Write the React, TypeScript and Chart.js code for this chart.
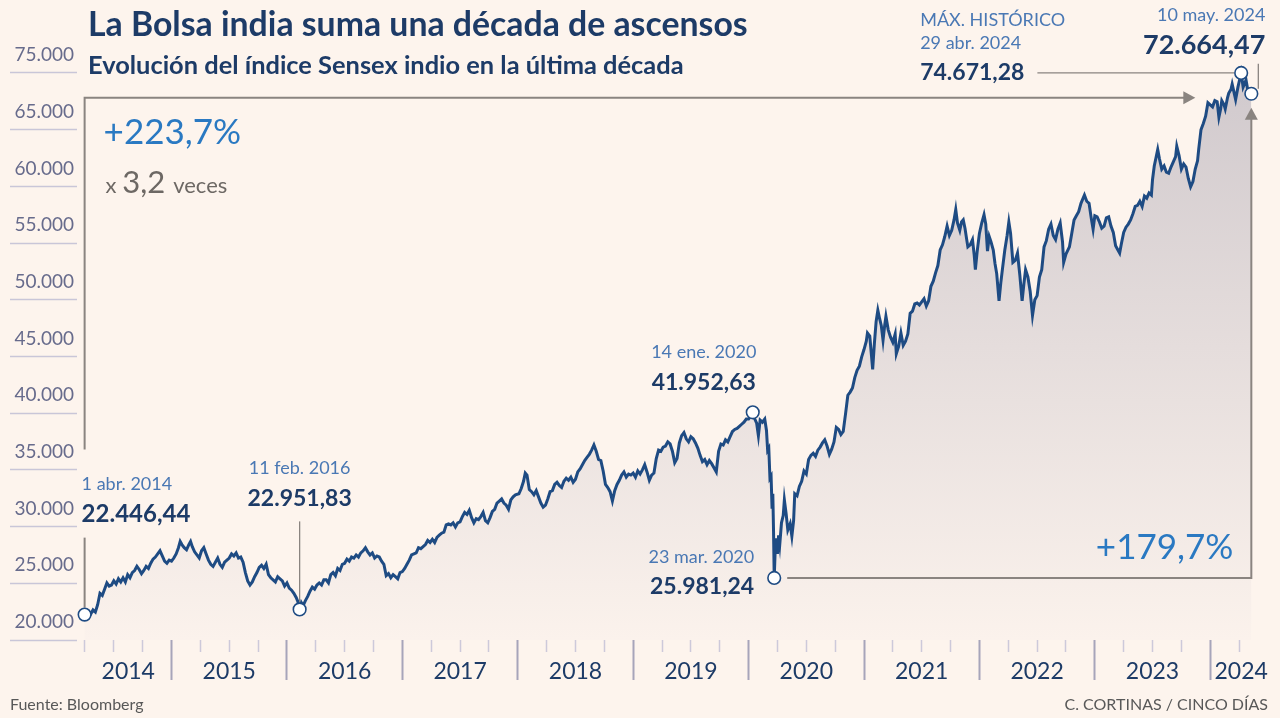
import React, { useEffect, useRef } from "react";
import { Chart, registerables } from "chart.js";

Chart.register(...registerables);

const FONT = "Lato, 'Noto Sans', 'DejaVu Sans', sans-serif";
const BG = "#fdf4ed";
const LINE_COLOR = "#1e4b83";
const ARROW = "#8a8480";
const DARK = "#1d3b67";
const DATE_BLUE = "#4a78b4";
const PCT_BLUE = "#2a79c2";

const TITLE = "La Bolsa india suma una década de ascensos";
const SUBTITLE = "Evolución del índice Sensex indio en la última década";
const SOURCE = "Fuente: Bloomberg";
const CREDIT = "C. CORTINAS / CINCO DÍAS";

// ---- Sensex series (x = decimal year, y = index points) ----
const D2014 = [2014.247, 2014.26, 2014.28, 2014.30, 2014.32, 2014.34, 2014.36, 2014.38, 2014.40, 2014.42, 2014.44, 2014.46, 2014.48, 2014.50, 2014.52, 2014.54, 2014.56, 2014.58, 2014.60, 2014.62, 2014.64, 2014.66, 2014.68, 2014.70, 2014.72, 2014.74, 2014.76, 2014.78, 2014.80, 2014.82, 2014.84, 2014.86, 2014.88, 2014.90, 2014.92, 2014.94, 2014.96, 2014.98];
const V2014 = [22446, 22300, 22600, 22500, 22900, 22700, 23400, 24500, 24300, 24900, 25500, 25200, 25300, 25700, 25400, 25900, 25600, 26000, 25600, 26300, 26000, 26500, 26700, 27100, 26800, 26400, 26700, 27100, 26900, 27400, 27800, 28000, 28300, 28600, 28100, 27600, 27400, 27700];

const D2015 = [2015.00, 2015.02, 2015.04, 2015.06, 2015.075, 2015.09, 2015.11, 2015.13, 2015.15, 2015.165, 2015.18, 2015.20, 2015.22, 2015.24, 2015.26, 2015.28, 2015.30, 2015.32, 2015.34, 2015.36, 2015.38, 2015.40, 2015.42, 2015.44, 2015.46, 2015.48, 2015.50, 2015.52, 2015.54, 2015.56, 2015.58, 2015.60, 2015.62, 2015.64, 2015.66, 2015.68, 2015.70, 2015.72, 2015.74, 2015.76, 2015.78, 2015.80, 2015.82, 2015.84, 2015.86, 2015.88, 2015.90, 2015.92, 2015.94, 2015.96, 2015.98];
const V2015 = [27600, 27900, 28300, 28900, 29500, 29200, 28900, 28700, 29200, 29500, 29000, 28500, 28200, 27900, 28600, 28900, 28300, 27700, 27300, 27100, 27500, 27900, 27300, 27000, 27500, 27700, 27900, 28300, 28100, 28400, 27900, 28000, 27500, 26500, 25700, 25300, 25600, 26100, 26500, 27000, 27200, 26900, 27300, 26300, 26000, 25800, 25600, 26100, 25900, 25700, 25200];

const D2016 = [2016.00, 2016.02, 2016.04, 2016.06, 2016.08, 2016.095, 2016.11, 2016.125, 2016.14, 2016.16, 2016.18, 2016.20, 2016.22, 2016.24, 2016.26, 2016.28, 2016.30, 2016.32, 2016.34, 2016.36, 2016.38, 2016.40, 2016.42, 2016.44, 2016.46, 2016.48, 2016.50, 2016.52, 2016.54, 2016.56, 2016.58, 2016.60, 2016.62, 2016.64, 2016.66, 2016.68, 2016.70, 2016.72, 2016.74, 2016.76, 2016.78, 2016.80, 2016.82, 2016.84, 2016.86, 2016.88, 2016.90, 2016.92, 2016.94, 2016.96, 2016.98];
const V2016 = [25500, 25000, 24800, 24500, 24100, 23700, 22952, 23600, 23300, 23800, 24200, 24700, 25100, 24900, 25300, 25500, 25300, 25800, 25800, 25500, 26300, 26500, 26200, 26900, 26700, 27300, 27400, 27800, 27600, 28000, 27900, 28200, 28000, 28400, 28600, 28900, 28500, 28200, 28400, 27900, 28100, 28000, 27600, 27300, 26200, 26400, 26000, 26300, 26100, 25900, 26500];

const D2017 = [2017.00, 2017.02, 2017.04, 2017.06, 2017.08, 2017.10, 2017.12, 2017.14, 2017.16, 2017.18, 2017.20, 2017.22, 2017.24, 2017.26, 2017.28, 2017.30, 2017.32, 2017.34, 2017.36, 2017.38, 2017.40, 2017.42, 2017.44, 2017.46, 2017.48, 2017.50, 2017.52, 2017.54, 2017.56, 2017.58, 2017.60, 2017.62, 2017.64, 2017.66, 2017.68, 2017.70, 2017.72, 2017.74, 2017.76, 2017.78, 2017.80, 2017.82, 2017.84, 2017.86, 2017.88, 2017.90, 2017.92, 2017.94, 2017.96, 2017.98];
const V2017 = [26600, 26900, 27300, 27700, 28200, 28300, 28400, 28900, 28800, 29000, 29200, 29600, 29400, 29700, 29400, 29900, 30100, 30300, 30400, 31100, 31200, 31100, 31300, 30900, 31300, 31400, 31900, 32300, 32100, 32500, 31800, 31300, 31700, 31600, 31900, 32300, 31500, 31300, 31800, 32400, 32600, 33200, 33400, 33600, 33200, 33000, 32600, 33500, 33800, 34000];

const D2018 = [2018.01, 2018.03, 2018.05, 2018.065, 2018.08, 2018.10, 2018.12, 2018.14, 2018.16, 2018.18, 2018.20, 2018.22, 2018.24, 2018.26, 2018.28, 2018.30, 2018.32, 2018.34, 2018.36, 2018.38, 2018.40, 2018.42, 2018.44, 2018.46, 2018.48, 2018.50, 2018.52, 2018.54, 2018.56, 2018.58, 2018.60, 2018.62, 2018.64, 2018.66, 2018.68, 2018.70, 2018.72, 2018.74, 2018.76, 2018.78, 2018.80, 2018.82, 2018.84, 2018.86, 2018.88, 2018.90, 2018.92, 2018.94, 2018.96, 2018.98];
const V2018 = [34100, 34600, 35300, 36100, 35900, 34500, 34300, 34000, 34400, 33800, 33200, 32800, 33000, 33600, 34300, 34400, 35000, 35200, 34900, 34700, 35300, 35600, 35400, 35700, 35200, 35500, 36200, 36500, 36900, 37300, 37600, 37900, 38300, 38800, 38200, 37400, 37300, 36300, 35000, 34700, 34300, 33400, 34400, 35000, 35400, 35900, 36200, 35700, 36000, 35900];

const D2019 = [2019.00, 2019.02, 2019.04, 2019.06, 2019.08, 2019.10, 2019.12, 2019.14, 2019.16, 2019.18, 2019.20, 2019.22, 2019.24, 2019.26, 2019.28, 2019.30, 2019.32, 2019.34, 2019.36, 2019.38, 2019.40, 2019.42, 2019.44, 2019.46, 2019.48, 2019.50, 2019.52, 2019.54, 2019.56, 2019.58, 2019.60, 2019.62, 2019.64, 2019.66, 2019.68, 2019.70, 2019.72, 2019.74, 2019.76, 2019.78, 2019.80, 2019.82, 2019.84, 2019.86, 2019.88, 2019.90, 2019.92, 2019.94, 2019.96, 2019.98];
const V2019 = [36100, 35700, 36300, 36000, 36400, 36900, 36200, 35400, 35900, 36100, 37500, 38300, 38200, 38600, 38700, 39100, 38900, 38200, 37100, 37500, 39000, 39700, 40000, 39400, 39100, 39600, 39400, 39000, 38500, 37800, 37200, 37400, 36900, 37300, 37000, 36600, 36200, 38200, 38900, 38800, 39300, 39100, 39600, 40100, 40300, 40400, 40600, 40800, 41000, 41300];

const D2020 = [2020.00, 2020.02, 2020.036, 2020.05, 2020.07, 2020.085, 2020.10, 2020.12, 2020.14, 2020.155, 2020.165, 2020.175, 2020.185, 2020.195, 2020.203, 2020.21, 2020.216, 2020.222, 2020.23, 2020.24, 2020.25, 2020.26, 2020.27, 2020.285, 2020.30, 2020.31, 2020.325, 2020.34, 2020.36, 2020.375, 2020.39, 2020.40, 2020.42, 2020.44, 2020.46, 2020.48, 2020.50, 2020.52, 2020.54, 2020.56, 2020.58, 2020.60, 2020.62, 2020.64, 2020.66, 2020.68, 2020.70, 2020.72, 2020.74, 2020.76, 2020.78, 2020.80, 2020.82, 2020.84, 2020.86, 2020.88, 2020.90, 2020.92, 2020.94, 2020.96, 2020.98];
const V2020 = [41300, 41600, 41952.63, 41400, 40900, 39700, 41200, 41000, 41300, 40200, 38300, 38500, 35600, 35800, 32800, 34100, 30600, 25981.24, 28500, 29800, 28300, 30100, 29200, 31300, 32000, 33500, 32200, 30600, 31200, 30000, 31500, 34100, 33900, 34800, 35300, 36300, 36000, 37400, 37800, 38000, 37700, 38300, 38600, 39000, 39300, 38700, 37900, 38400, 39100, 40500, 40300, 39800, 40100, 41800, 43600, 43900, 44300, 45300, 46000, 46400, 47300];

const D2021 = [2021.00, 2021.02, 2021.03, 2021.05, 2021.065, 2021.075, 2021.09, 2021.105, 2021.12, 2021.135, 2021.15, 2021.165, 2021.18, 2021.19, 2021.21, 2021.23, 2021.25, 2021.27, 2021.28, 2021.30, 2021.32, 2021.34, 2021.36, 2021.38, 2021.40, 2021.42, 2021.44, 2021.46, 2021.48, 2021.50, 2021.52, 2021.54, 2021.56, 2021.58, 2021.60, 2021.62, 2021.64, 2021.66, 2021.68, 2021.70, 2021.72, 2021.74, 2021.76, 2021.78, 2021.795, 2021.81, 2021.83, 2021.845, 2021.86, 2021.875, 2021.89, 2021.90, 2021.92, 2021.94, 2021.955, 2021.965, 2021.98];
const V2021 = [48000, 48800, 49600, 49300, 47400, 46100, 48600, 50700, 51800, 51000, 50300, 48900, 50400, 51200, 49900, 49200, 48700, 49500, 47600, 48300, 49600, 48400, 48800, 49500, 51500, 51700, 52400, 52500, 52300, 52600, 52900, 52200, 52700, 54100, 54600, 55400, 56100, 57600, 58100, 58900, 59900, 59000, 59500, 60500, 61500, 60200, 59500, 60300, 60500, 59700, 58600, 57900, 58100, 58600, 57100, 55700, 57400];

const D2022 = [2022.00, 2022.02, 2022.04, 2022.055, 2022.07, 2022.085, 2022.10, 2022.12, 2022.135, 2022.15, 2022.17, 2022.185, 2022.20, 2022.22, 2022.24, 2022.255, 2022.27, 2022.29, 2022.31, 2022.33, 2022.35, 2022.37, 2022.385, 2022.40, 2022.42, 2022.44, 2022.46, 2022.48, 2022.50, 2022.52, 2022.54, 2022.56, 2022.58, 2022.60, 2022.62, 2022.64, 2022.66, 2022.68, 2022.70, 2022.72, 2022.73, 2022.75, 2022.78, 2022.80, 2022.82, 2022.84, 2022.86, 2022.88, 2022.91, 2022.93, 2022.95, 2022.97, 2022.985];
const V2022 = [59200, 60200, 61000, 60100, 57500, 58900, 58400, 57600, 56300, 55300, 52700, 54400, 55800, 57600, 59000, 60300, 59200, 56400, 56600, 57300, 55200, 52700, 54300, 55700, 55000, 53600, 51300, 52800, 53200, 55000, 55700, 57900, 58500, 59600, 60100, 59000, 58600, 59600, 60200, 58400, 56400, 57200, 57900, 59200, 60500, 60900, 61300, 62100, 62900, 62300, 62100, 60600, 59600];

const D2023 = [2023.00, 2023.02, 2023.04, 2023.06, 2023.08, 2023.10, 2023.12, 2023.14, 2023.16, 2023.18, 2023.20, 2023.215, 2023.23, 2023.25, 2023.27, 2023.29, 2023.31, 2023.33, 2023.35, 2023.37, 2023.39, 2023.41, 2023.43, 2023.45, 2023.47, 2023.49, 2023.50, 2023.515, 2023.53, 2023.545, 2023.56, 2023.58, 2023.60, 2023.62, 2023.64, 2023.66, 2023.68, 2023.70, 2023.71, 2023.73, 2023.75, 2023.77, 2023.79, 2023.81, 2023.83, 2023.85, 2023.87, 2023.89, 2023.90, 2023.92, 2023.94, 2023.96, 2023.98];
const V2023 = [60900, 60800, 60300, 59700, 59900, 60700, 60800, 59900, 59300, 58000, 57600, 57300, 58200, 59300, 59800, 60100, 60500, 61100, 61800, 61900, 62300, 61800, 62800, 62600, 63100, 62900, 64400, 65700, 66500, 67300, 66400, 65400, 65700, 65100, 65000, 65600, 66100, 66600, 67600, 66700, 65400, 65900, 65600, 64500, 63700, 64200, 65400, 66200, 67300, 69200, 69800, 70500, 71800];

const D2024 = [2024.00, 2024.02, 2024.04, 2024.06, 2024.075, 2024.09, 2024.10, 2024.12, 2024.13, 2024.15, 2024.16, 2024.18, 2024.19, 2024.21, 2024.22, 2024.24, 2024.25, 2024.268, 2024.285, 2024.30, 2024.31, 2024.33, 2024.345, 2024.356];
const V2024 = [71600, 71400, 72000, 71900, 70400, 71200, 72000, 71600, 71200, 72300, 72700, 73100, 73600, 72600, 72100, 73300, 73800, 74671.28, 73300, 73700, 74000, 72700, 72400, 72664.47];

const DATES = [...D2014, ...D2015, ...D2016, ...D2017, ...D2018, ...D2019, ...D2020, ...D2021, ...D2022, ...D2023, ...D2024];
const VALUES = [...V2014, ...V2015, ...V2016, ...V2017, ...V2018, ...V2019, ...V2020, ...V2021, ...V2022, ...V2023, ...V2024];

// ---- highlighted points ----
const MARK_DATES = [2014.247, 2016.11, 2020.036, 2020.222, 2024.268, 2024.356];
const MARK_VALUES = [22446.44, 22951.83, 41952.63, 25981.24, 74671.28, 72664.47];
const MARK_DATE_LABELS = ["1 abr. 2014", "11 feb. 2016", "14 ene. 2020", "23 mar. 2020", "29 abr. 2024", "10 may. 2024"];
const MARK_VALUE_LABELS = ["22.446,44", "22.951,83", "41.952,63", "25.981,24", "74.671,28", "72.664,47"];
const MAX_LABEL = "MÁX. HISTÓRICO";
const GAIN_DECADE = "+223,7%";
const GAIN_COVID = "+179,7%";
const MULT_PARTS = ["x", "3,2", "veces"];

// ---- axes ----
const X_MIN = 2014.181;
const X_MAX = 2024.536;
const Y_MIN = 20000;
const Y_MAX = 76400;
const YL_MAX = 71587;
const Y_TICK_VALUES = [20000, 25000, 30000, 35000, 40000, 45000, 50000, 55000, 60000, 65000, 70000];
const Y_TICK_LABELS = ["20.000", "25.000", "30.000", "35.000", "40.000", "45.000", "50.000", "55.000", "60.000", "65.000", "75.000"];
const YEAR_BOUNDARIES = [2015, 2016, 2017, 2018, 2019, 2020, 2021, 2022, 2023, 2024];
const QUARTER_TICKS = [2014.25, 2014.5, 2014.75, 2015.25, 2015.5, 2015.75, 2016.25, 2016.5, 2016.75, 2017.25, 2017.5, 2017.75, 2018.25, 2018.5, 2018.75, 2019.25, 2019.5, 2019.75, 2020.25, 2020.5, 2020.75, 2021.25, 2021.5, 2021.75, 2022.25, 2022.5, 2022.75, 2023.25, 2023.5, 2023.75, 2024.25];
const YEAR_LABELS = ["2014", "2015", "2016", "2017", "2018", "2019", "2020", "2021", "2022", "2023", "2024"];
const YEAR_LABEL_POS = [2014.625, 2015.5, 2016.5, 2017.5, 2018.5, 2019.5, 2020.5, 2021.5, 2022.5, 2023.5, 2024.268];

function drawText(ctx: CanvasRenderingContext2D, s: string, x: number, y: number, font: string, color: string, align: CanvasTextAlign = "left") {
  ctx.font = font;
  ctx.fillStyle = color;
  ctx.textAlign = align;
  ctx.textBaseline = "middle";
  ctx.fillText(s, x, y);
}

function fitSize(ctx: CanvasRenderingContext2D, s: string, weight: number, target: number) {
  ctx.font = `${weight} 100px ${FONT}`;
  const w = ctx.measureText(s).width;
  return (100 * target) / w;
}

function poly(ctx: CanvasRenderingContext2D, pts: number[][]) {
  ctx.beginPath();
  ctx.moveTo(pts[0][0], pts[0][1]);
  for (let i = 1; i < pts.length; i++) ctx.lineTo(pts[i][0], pts[i][1]);
  ctx.stroke();
}

function tri(ctx: CanvasRenderingContext2D, pts: number[][]) {
  ctx.beginPath();
  ctx.moveTo(pts[0][0], pts[0][1]);
  ctx.lineTo(pts[1][0], pts[1][1]);
  ctx.lineTo(pts[2][0], pts[2][1]);
  ctx.closePath();
  ctx.fill();
}

function markPixels(chart: any) {
  const xs = chart.scales.x;
  const ys = chart.scales.y;
  return MARK_DATES.map((d, i) => ({ x: xs.getPixelForValue(d), y: ys.getPixelForValue(MARK_VALUES[i]) }));
}

const annotationPlugin = {
  id: "sensexAnnotations",
  afterDatasetDraw(chart: any, args: any) {
    if (args.index !== 0) return;
    const ctx: CanvasRenderingContext2D = chart.ctx;
    const P = markPixels(chart);
    ctx.save();
    ctx.strokeStyle = ARROW;
    ctx.fillStyle = ARROW;
    ctx.lineWidth = 2;
    ctx.lineJoin = "miter";
    const s = P[0], e = P[5], lo = P[3], mx = P[4], fb = P[1];
    const topY = e.y + 4;
    // decade box: from start point up, then right with arrow
    poly(ctx, [[s.x, s.y - 7], [s.x, s.y - 77]]);
    poly(ctx, [[s.x, s.y - 165], [s.x, topY], [e.x - 66, topY]]);
    tri(ctx, [[e.x - 56, topY], [e.x - 68, topY - 6.5], [e.x - 68, topY + 6.5]]);
    // covid box: from low right then up with arrow
    poly(ctx, [[lo.x + 13, lo.y], [e.x, lo.y], [e.x, e.y + 24]]);
    tri(ctx, [[e.x, e.y + 14], [e.x - 6.5, e.y + 26], [e.x + 6.5, e.y + 26]]);
    // feb 2016 leader
    ctx.lineWidth = 1.3;
    poly(ctx, [[fb.x, fb.y - 7], [fb.x, fb.y - 88]]);
    // max leader
    ctx.font = `700 23px ${FONT}`;
    const vw = ctx.measureText(MARK_VALUE_LABELS[4]).width;
    poly(ctx, [[mx.x - 321 + vw + 13, mx.y], [mx.x - 7, mx.y]]);
    // last-value leader
    poly(ctx, [[e.x + 7, e.y - 30], [e.x + 7, e.y - 5]]);
    ctx.restore();
  },
  afterDraw(chart: any) {
    const ctx: CanvasRenderingContext2D = chart.ctx;
    const P = markPixels(chart);
    ctx.save();
    // titles
    const ts = fitSize(ctx, TITLE, 700, 660);
    drawText(ctx, TITLE, 88, 25, `700 ${ts}px ${FONT}`, DARK);
    const ss = fitSize(ctx, SUBTITLE, 700, 596);
    drawText(ctx, SUBTITLE, 88, 66, `700 ${ss}px ${FONT}`, DARK);

    const dateFont = `400 18px ${FONT}`;
    const valFont = `700 24px ${FONT}`;
    // start
    drawText(ctx, MARK_DATE_LABELS[0], P[0].x - 3, P[0].y - 130, dateFont, DATE_BLUE);
    drawText(ctx, MARK_VALUE_LABELS[0], P[0].x - 3, P[0].y - 100, valFont, DARK);
    // feb 2016
    drawText(ctx, MARK_DATE_LABELS[1], P[1].x, P[1].y - 141, dateFont, DATE_BLUE, "center");
    drawText(ctx, MARK_VALUE_LABELS[1], P[1].x, P[1].y - 111, `700 23px ${FONT}`, DARK, "center");
    // jan 2020
    drawText(ctx, MARK_DATE_LABELS[2], P[2].x - 49, P[2].y - 60, dateFont, DATE_BLUE, "center");
    drawText(ctx, MARK_VALUE_LABELS[2], P[2].x - 49, P[2].y - 30, `700 23px ${FONT}`, DARK, "center");
    // mar 2020
    drawText(ctx, MARK_DATE_LABELS[3], P[3].x - 20, P[3].y - 21, dateFont, DATE_BLUE, "right");
    drawText(ctx, MARK_VALUE_LABELS[3], P[3].x - 20, P[3].y + 9, `700 23px ${FONT}`, DARK, "right");
    // max
    const mxL = P[4].x - 321;
    drawText(ctx, MAX_LABEL, mxL, 20, dateFont, DATE_BLUE);
    drawText(ctx, MARK_DATE_LABELS[4], mxL, 43, dateFont, DATE_BLUE);
    drawText(ctx, MARK_VALUE_LABELS[4], mxL, P[4].y, `700 23px ${FONT}`, DARK);
    // last
    drawText(ctx, MARK_DATE_LABELS[5], P[5].x + 14, 15, dateFont, DATE_BLUE, "right");
    drawText(ctx, MARK_VALUE_LABELS[5], P[5].x + 14, 45, `700 27px ${FONT}`, DARK, "right");

    // gains
    drawText(ctx, GAIN_DECADE, P[0].x + 19, 133, `400 35px ${FONT}`, PCT_BLUE);
    let x = P[0].x + 21;
    const gray = "#6d6864";
    ctx.font = `400 22px ${FONT}`;
    drawText(ctx, MULT_PARTS[0], x, 186, `400 22px ${FONT}`, gray);
    x += ctx.measureText(MULT_PARTS[0] + " ").width;
    drawText(ctx, MULT_PARTS[1], x, 183, `400 31px ${FONT}`, gray);
    x += ctx.measureText(MULT_PARTS[1]).width + 8;
    drawText(ctx, MULT_PARTS[2], x, 186, `400 22px ${FONT}`, gray);
    drawText(ctx, GAIN_COVID, P[5].x - 18, P[3].y - 30, `400 35px ${FONT}`, PCT_BLUE, "right");

    // footer
    drawText(ctx, SOURCE, 10, 705, `400 16px ${FONT}`, "#585858");
    drawText(ctx, CREDIT, 1268, 705, `400 16px ${FONT}`, "#585858", "right");
    ctx.restore();
  },
};

export default function App() {
  const ref = useRef<HTMLCanvasElement>(null);
  useEffect(() => {
    const canvas = ref.current;
    if (!canvas) return;
    const chart = new Chart(canvas, {
      type: "line",
      data: {
        datasets: [
          {
            type: "line",
            data: DATES.map((d, i) => ({ x: d, y: VALUES[i] })),
            borderColor: LINE_COLOR,
            borderWidth: 3,
            pointRadius: 0,
            tension: 0,
            fill: "start",
            backgroundColor: (c: any) => {
              const area = c.chart.chartArea;
              if (!area) return "rgba(0,0,0,0)";
              const g = c.chart.ctx.createLinearGradient(0, area.top, 0, area.bottom);
              g.addColorStop(0, "#cfc8cc");
              g.addColorStop(1, "#fbf2ec");
              return g;
            },
            xAxisID: "x",
            yAxisID: "y",
            order: 1,
          } as any,
          {
            type: "scatter",
            data: MARK_DATES.map((d, i) => ({ x: d, y: MARK_VALUES[i] })),
            pointRadius: 6.3,
            pointBackgroundColor: "#ffffff",
            pointBorderColor: LINE_COLOR,
            pointBorderWidth: 1.6,
            showLine: false,
            xAxisID: "x",
            yAxisID: "y",
            order: 0,
          } as any,
        ],
      },
      options: {
        animation: false,
        responsive: false,
        maintainAspectRatio: false,
        devicePixelRatio: 1,
        layout: { padding: { top: 55, right: 5, left: 0, bottom: 0 } },
        plugins: { legend: { display: false }, tooltip: { enabled: false }, title: { display: false } },
        scales: {
          x: {
            type: "linear",
            position: "bottom",
            min: X_MIN,
            max: X_MAX,
            afterBuildTicks: (s: any) => { s.ticks = QUARTER_TICKS.map((v) => ({ value: v })); },
            afterFit: (s: any) => { s.height = 0; s.paddingLeft = 0; s.paddingRight = 0; },
            grid: { display: true, drawOnChartArea: false, drawTicks: true, tickLength: 12, tickColor: "#cdc9da", tickWidth: 1.5, color: "#cdc9da" },
            border: { display: false },
            ticks: { display: false },
          },
          xYears: {
            type: "linear",
            position: "bottom",
            min: X_MIN,
            max: X_MAX,
            afterBuildTicks: (s: any) => { s.ticks = YEAR_BOUNDARIES.map((v) => ({ value: v })); },
            afterFit: (s: any) => { s.height = 0; s.paddingLeft = 0; s.paddingRight = 0; },
            grid: { display: true, drawOnChartArea: false, drawTicks: true, tickLength: 40, tickColor: "#a7a5ba", tickWidth: 2, color: "#a7a5ba" },
            border: { display: false },
            ticks: { display: false },
          },
          xLabels: {
            type: "linear",
            position: "bottom",
            min: X_MIN,
            max: X_MAX,
            afterBuildTicks: (s: any) => { s.ticks = YEAR_LABEL_POS.map((v) => ({ value: v })); },
            afterFit: (s: any) => { s.height = 78; s.paddingLeft = 0; s.paddingRight = 0; },
            grid: { display: false },
            border: { display: false },
            ticks: {
              autoSkip: false,
              maxRotation: 0,
              padding: 10,
              color: DARK,
              font: { family: FONT, size: 23, weight: 400 },
              callback: (_v: any, i: number) => YEAR_LABELS[i],
            },
          },
          y: {
            type: "linear",
            display: false,
            min: Y_MIN,
            max: Y_MAX,
          },
          yL: {
            type: "linear",
            position: "left",
            min: Y_MIN,
            max: YL_MAX,
            afterBuildTicks: (s: any) => { s.ticks = Y_TICK_VALUES.map((v) => ({ value: v })); },
            afterFit: (s: any) => { s.width = 77; s.paddingTop = 0; s.paddingBottom = 0; },
            grid: { display: true, drawOnChartArea: false, drawTicks: true, tickLength: 67, tickColor: "#c9c6d8", tickWidth: 1.6, color: "#c9c6d8" },
            border: { display: false },
            ticks: {
              autoSkip: false,
              padding: -64,
              labelOffset: -18,
              color: "#676b8c",
              font: { family: FONT, size: 19, weight: 400 },
              callback: (_v: any, i: number) => Y_TICK_LABELS[i],
            },
          },
        },
      } as any,
      plugins: [annotationPlugin as any],
    });
    return () => chart.destroy();
  }, []);

  return (
    <div style={{ position: "fixed", left: 0, top: 0, width: 1280, height: 718, background: BG }}>
      <canvas ref={ref} width={1280} height={718} style={{ display: "block", width: 1280, height: 718 }} />
    </div>
  );
}
